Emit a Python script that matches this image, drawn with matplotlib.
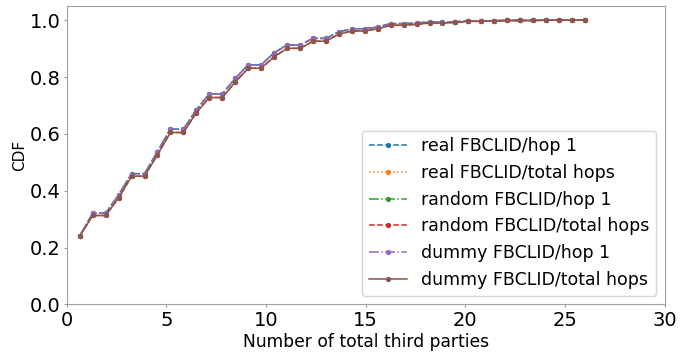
import matplotlib
matplotlib.use('Agg')
import matplotlib.pyplot as plt

# number of third parties at which the CDF was evaluated
num_third_parties = [0.65, 1.3, 1.95, 2.6, 3.25, 3.9, 4.55, 5.2, 5.85, 6.5,
                     7.15, 7.8, 8.45, 9.1, 9.75, 10.4, 11.05, 11.7, 12.35, 13.0,
                     13.65, 14.3, 14.95, 15.6, 16.25, 16.9, 17.55, 18.2, 18.85, 19.5,
                     20.15, 20.8, 21.45, 22.1, 22.75, 23.4, 24.05, 24.7, 25.35, 26.0]

cdf_hop1 = [0.241, 0.321, 0.321, 0.386, 0.460, 0.460, 0.538, 0.617, 0.617, 0.685,
            0.741, 0.741, 0.795, 0.843, 0.843, 0.885, 0.913, 0.913, 0.936, 0.936,
            0.959, 0.970, 0.970, 0.976, 0.988, 0.988, 0.991, 0.993, 0.993, 0.995,
            0.997, 0.997, 0.998, 0.999, 0.999, 0.999, 1.0, 1.0, 1.0, 1.0]

cdf_total = [0.241, 0.313, 0.313, 0.375, 0.451, 0.451, 0.527, 0.605, 0.605, 0.675,
             0.728, 0.728, 0.782, 0.831, 0.831, 0.871, 0.901, 0.901, 0.926, 0.926,
             0.951, 0.962, 0.962, 0.970, 0.982, 0.982, 0.986, 0.990, 0.990, 0.992,
             0.996, 0.996, 0.998, 0.999, 0.999, 0.999, 1.0, 1.0, 1.0, 1.0]

labels = ['real FBCLID/hop 1', 'real FBCLID/total hops',
          'random FBCLID/hop 1', 'random FBCLID/total hops',
          'dummy FBCLID/hop 1', 'dummy FBCLID/total hops']
series = [cdf_hop1, cdf_total, cdf_hop1, cdf_total, cdf_hop1, cdf_total]
styles = ['--', ':', '-.', '--', '-.', '-']
colors = ['tab:blue', 'tab:orange', 'tab:green', 'tab:red', 'tab:purple', 'tab:brown']

fig = plt.figure(figsize=(6.96, 3.52), dpi=100)
ax = fig.add_axes([0.096, 0.135, 0.859, 0.848])

for y, ls, c, lab in zip(series, styles, colors, labels):
    ax.plot(num_third_parties, y, linestyle=ls, color=c, marker='.',
            markersize=5.5, linewidth=1.1, label=lab)

ax.set_xlim(0, 30)
ax.set_ylim(0, 1.05)
ax.set_xticks([0, 5, 10, 15, 20, 25, 30])
ax.set_yticks([0.0, 0.2, 0.4, 0.6, 0.8, 1.0])
ax.tick_params(axis='y', labelsize=14, colors='#999999', labelcolor='black',
               length=2, pad=2.5)
ax.tick_params(axis='x', labelsize=14, colors='#999999', labelcolor='black',
               length=2, pad=3)

for sp in ax.spines.values():
    sp.set_color('#a0a0a0')

ax.set_xlabel('Number of total third parties', fontsize=12.3, labelpad=2)
ax.set_ylabel('CDF', fontsize=11, labelpad=2)

ax.legend(loc='lower right', fontsize=12.5, handlelength=2.2)

fig.savefig('out.png', dpi=100)
